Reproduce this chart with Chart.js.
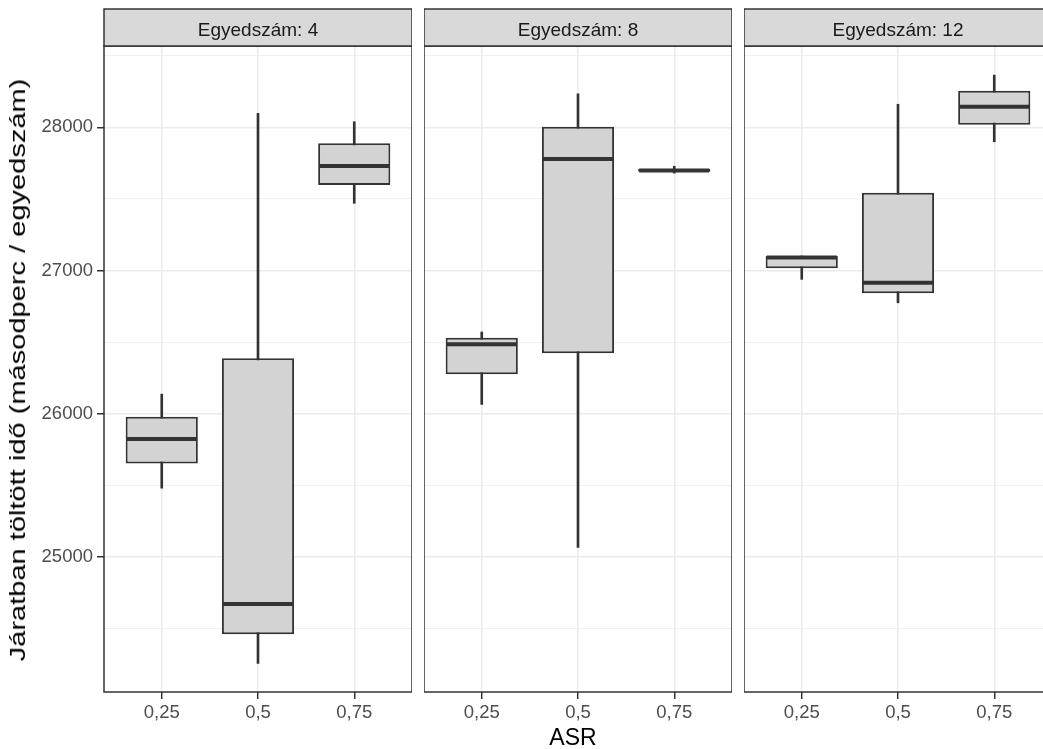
<!DOCTYPE html>
<html>
<head>
<meta charset="utf-8">
<script src="https://cdn.jsdelivr.net/npm/chart.js@4/dist/chart.umd.min.js"></script>
<style>
  html, body { margin: 0; padding: 0; background: #fff; }
  body { width: 1043px; height: 749px; position: relative; overflow: hidden; font-family: "Liberation Sans", Arial, sans-serif; }
  .panel { position: absolute; top: 0; height: 749px; }
  #xtitle { position: absolute; left: 473px; width: 200px; top: 722px; text-align: center; font-size: 23px; line-height: 30px; color: #000; }
  #ytitle { position: absolute; left: 18px; top: 370px; white-space: nowrap; font-size: 22px; line-height: 26px; color: #000;
            transform: translate(-50%, -50%) rotate(-90deg) scaleX(1.32); }
</style>
</head>
<body>
<div class="panel" style="left:0;width:412px"><canvas id="p0"></canvas></div>
<div class="panel" style="left:424px;width:308px"><canvas id="p1"></canvas></div>
<div class="panel" style="left:744px;width:308px"><canvas id="p2"></canvas></div>
<div id="xtitle">ASR</div>
<div id="ytitle">Járatban töltött idő (másodperc / egyedszám)</div>
<script>
// facets and categories
const egyedszam = [4, 8, 12];
const asrLabels = ['0,25', '0,5', '0,75'];
const yTicks = [24500, 25000, 25500, 26000, 26500, 27000, 27500, 28000, 28500];
// box statistics per facet, per ASR category
const mins    = [[25479, 24254, 27469], [26064, 25065, 27680], [26938, 26774, 27899]];
const q1s     = [[25652, 24459, 27597], [26274, 26421, 27690], [27015, 26840, 28018]];
const medians = [[25822, 24669, 27730], [26484, 27778, 27698], [27090, 26914, 28144]];
const q3s     = [[25978, 26386, 27888], [26530, 28004, 27708], [27101, 27543, 28256]];
const maxs    = [[26136, 28098, 28039], [26570, 28233, 27728], [27101, 28161, 28365]];
const yMin = 24055, yMax = 28568;

const FONT = '"Liberation Sans", Arial, sans-serif';
const DARK = '#333333';
const GRID = '#ebebeb';
const isMajor = v => v % 1000 === 0;

// strip + panel border, ggplot theme_bw style
const facetDeco = {
  id: 'facetDeco',
  afterDraw(chart, args, opts) {
    const { ctx, chartArea: a } = chart;
    ctx.save();
    ctx.lineWidth = 1.5;
    ctx.strokeStyle = DARK;
    ctx.strokeRect(a.left, a.top, a.right - a.left, a.bottom - a.top);
    ctx.fillStyle = '#d9d9d9';
    ctx.fillRect(a.left, 9, a.right - a.left, a.top - 9);
    ctx.strokeRect(a.left, 9, a.right - a.left, a.top - 9);
    ctx.fillStyle = '#1a1a1a';
    ctx.font = '19px ' + FONT;
    ctx.textAlign = 'center';
    ctx.textBaseline = 'alphabetic';
    ctx.fillText(opts.label, (a.left + a.right) / 2, 36);
    ctx.restore();
  }
};

function makePanel(i) {
  const first = i === 0;
  const boxes = asrLabels.map((l, k) => ({ x: k + 1, y: [q1s[i][k], q3s[i][k]] }));
  const whiskers = asrLabels.map((l, k) => ({ x: k + 1, y: [mins[i][k], maxs[i][k]] }));
  const meds = asrLabels.map((l, k) => ({ x: k + 1, y: medians[i][k] }));

  new Chart(document.getElementById('p' + i), {
    type: 'bar',
    data: {
      datasets: [
        { type: 'scatter', data: meds, pointStyle: 'line', pointRadius: 35, pointHoverRadius: 35,
          borderColor: DARK, pointBorderWidth: 4, pointHoverBorderWidth: 4, order: 0 },
        { data: boxes, backgroundColor: '#d3d3d3', borderColor: DARK, borderWidth: 2,
          borderSkipped: false, grouped: false, barPercentage: 0.75, categoryPercentage: 1, order: 1 },
        { data: whiskers, backgroundColor: DARK, borderWidth: 0, grouped: false,
          barThickness: 2, order: 2 }
      ]
    },
    options: {
      responsive: true,
      maintainAspectRatio: false,
      animation: false,
      layout: { autoPadding: false, padding: { top: 46, left: 0, right: 0, bottom: 0 } },
      plugins: {
        legend: { display: false },
        tooltip: { enabled: false },
        facetDeco: { label: 'Egyedszám: ' + egyedszam[i] }
      },
      scales: {
        x: {
          type: 'linear', min: 0.4, max: 3.6, offset: false,
          border: { display: false },
          grid: { offset: false, color: GRID, lineWidth: 1.5, tickColor: DARK, tickWidth: 1.5, tickLength: 7 },
          afterBuildTicks: s => { s.ticks = asrLabels.map((l, k) => ({ value: k + 1 })); },
          ticks: {
            autoSkip: false, padding: 3, maxRotation: 0,
            color: '#4d4d4d', font: { family: FONT, size: 18.5 },
            callback: v => asrLabels[Math.round(v) - 1]
          },
          afterFit: s => { s.height = 57; }
        },
        y: {
          min: yMin, max: yMax,
          border: { display: false },
          grid: {
            color: GRID,
            lineWidth: c => (c.tick && isMajor(c.tick.value)) ? 1.5 : 0.75,
            drawTicks: first,
            tickLength: 7,
            tickWidth: 1.5,
            tickColor: c => (c.tick && isMajor(c.tick.value)) ? DARK : 'rgba(0,0,0,0)'
          },
          afterBuildTicks: s => { s.ticks = yTicks.map(v => ({ value: v })); },
          ticks: {
            display: first, autoSkip: false, padding: 4,
            color: '#4d4d4d', font: { family: FONT, size: 18.5 },
            callback: v => isMajor(v) ? String(v) : ''
          },
          afterFit: s => { s.width = first ? 104 : 0; }
        }
      }
    },
    plugins: [facetDeco]
  });
}

egyedszam.forEach((e, i) => makePanel(i));
</script>
</body>
</html>
